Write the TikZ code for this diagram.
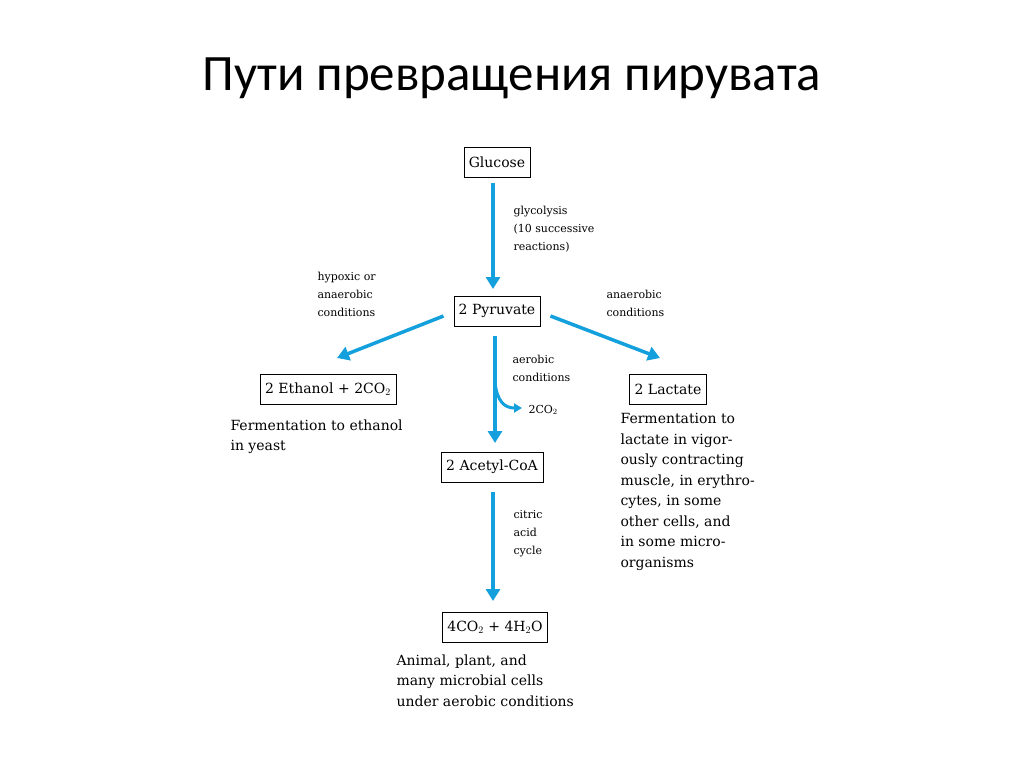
\documentclass[tikz,border=0pt]{standalone}
\usepackage{fontspec}
\setmainfont{DejaVu Serif}
\newfontfamily\titlefont{Carlito}
\usetikzlibrary{arrows.meta,positioning}
\definecolor{arrowblue}{RGB}{20,160,220}
\tikzset{
  x=1pt,y=-1pt,
  compound/.style={draw, thin, inner sep=5pt, minimum height=30pt, font=\fontsize{14}{18}\selectfont},
  flow/.style={arrowblue, line width=3.5pt, -{Triangle[length=12pt,width=14pt]}},
  cond/.style={align=left, anchor=north west, font=\fontsize{11}{18}\selectfont},
  caption/.style={align=left, anchor=north west, font=\fontsize{14}{20.5}\selectfont}
}
\begin{document}
\begin{tikzpicture}
\useasboundingbox (0,0) rectangle (1024,767);
\node[font=\titlefont\fontsize{51}{56}\selectfont] (title) at (512,78) {Пути превращения пирувата};

% compounds
\node[compound] (glc) at (497,162) {Glucose};
\node[compound] (pyr) at (497,311) {2 Pyruvate};
\node[compound] (eth) at (328,389) {2 Ethanol + 2CO$_2$};
\node[compound] (lac) at (668,389) {2 Lactate};
\node[compound] (acoa) at (492,467) {2 Acetyl-CoA};
\node[compound] (co2) at (495,627) {4CO$_2$ + 4H$_2$O};

% arrows
\draw[flow] (glc.south -| 493,0) ++(0,6) -- (493,289);
\draw[flow] (pyr.west) ++(-10,5) -- (337,358);
\draw[flow] (pyr.east) ++(10,5) -- (660,358);
\draw[flow] (pyr.south -| 495,0) ++(0,10) -- (495,443);
\draw[arrowblue, line width=3pt, -{Triangle[length=8pt,width=9pt]}] (495,382) .. controls (497,402) and (505,408) .. (522,408);
\node[anchor=west, font=\fontsize{11}{14}\selectfont] (co2side) at (525,410) {2CO$_2$};
\draw[flow] (acoa.south -| 493,0) ++(0,10) -- (493,601);

% conditions
\node[cond] (glyc) at (510,203) {glycolysis\\(10 successive\\reactions)};
\node[cond] (hyp) at (314,269) {hypoxic or\\anaerobic\\conditions};
\node[cond] (anaer) at (603,287) {anaerobic\\conditions};
\node[cond] (aer) at (509,352) {aerobic\\conditions};
\node[cond] (cit) at (510,507) {citric\\acid\\cycle};

% captions
\node[caption] (ethcap) at (227,416) {Fermentation to ethanol\\in yeast};
\node[caption] (laccap) at (617,410) {Fermentation to\\lactate in vigor-\\ously contracting\\muscle, in erythro-\\cytes, in some\\other cells, and\\in some micro-\\organisms};
\node[caption] (co2cap) at (393,651) {Animal, plant, and\\many microbial cells\\under aerobic conditions};
\end{tikzpicture}
\end{document}
